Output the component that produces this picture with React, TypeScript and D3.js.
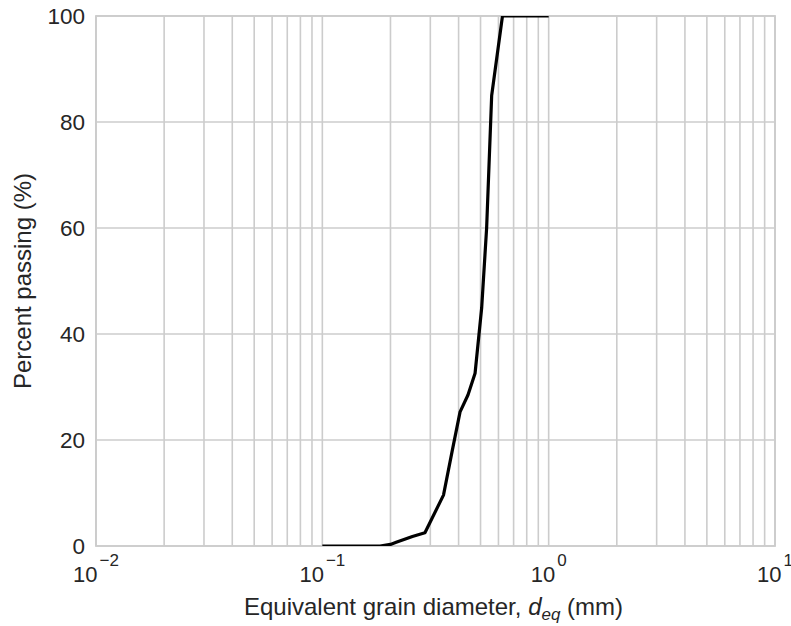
import React from "react";
import * as d3 from "d3";

const diameters = [0.1, 0.18, 0.2, 0.212, 0.25, 0.284, 0.343, 0.375, 0.406, 0.44, 0.473, 0.506, 0.532, 0.56, 0.625, 1.0];
const percentPassing = [0, 0, 0.3, 0.7, 1.8, 2.5, 9.6, 18, 25.3, 28.5, 32.6, 45, 60, 85, 100, 100];
const yTicks = [0, 20, 40, 60, 80, 100];
const xDecades = [-2, -1, 0, 1];

const W = 791, H = 626;
const L = 96, R = 775, T = 16, B = 546;
const FONT = "'Liberation Sans', Arial, sans-serif";
const TXT = "#262626";
const GRID = "#cccccc";

export default function App() {
  const x = d3.scaleLog().domain([0.01, 10]).range([L, R]);
  const y = d3.scaleLinear().domain([0, 100]).range([B, T]);
  const minor: number[] = [];
  for (const e of [-2, -1, 0]) {
    for (let k = 2; k <= 9; k++) minor.push(k * Math.pow(10, e));
  }
  const data = diameters.map((d, i) => [d, percentPassing[i]] as [number, number]);
  const line = d3.line<[number, number]>().x(d => x(d[0])).y(d => y(d[1]));
  return (
    <svg width={W} height={H} style={{ position: "absolute", left: 0, top: 0 }} fontFamily={FONT}>
      <rect x={0} y={0} width={W} height={H} fill="#fff" />
      <defs>
        <clipPath id="plotclip">
          <rect x={L} y={T} width={R - L} height={B - T} />
        </clipPath>
      </defs>
      {xDecades.map(e => (
        <line key={"xd" + e} x1={x(Math.pow(10, e))} x2={x(Math.pow(10, e))} y1={T} y2={B} stroke={GRID} strokeWidth={1.6} />
      ))}
      {minor.map((v, i) => (
        <line key={"xm" + i} x1={x(v)} x2={x(v)} y1={T} y2={B} stroke={GRID} strokeWidth={1.6} />
      ))}
      {yTicks.map(v => (
        <line key={"yg" + v} x1={L} x2={R} y1={y(v)} y2={y(v)} stroke={GRID} strokeWidth={1.6} />
      ))}
      <rect x={L} y={T} width={R - L} height={B - T} fill="none" stroke={GRID} strokeWidth={1.8} />
      <path d={line(data) || ""} fill="none" stroke="#000" strokeWidth={3.2} strokeLinejoin="round" clipPath="url(#plotclip)" />
      {yTicks.map(v => (
        <text key={"yt" + v} x={L - 11} y={y(v)} dy="0.36em" textAnchor="end" fontSize={22.5} fill={TXT}>{v}</text>
      ))}
      {xDecades.map(e => (
        <text key={"xt" + e} x={x(Math.pow(10, e))} y={582} textAnchor="middle" fontSize={22} fill={TXT}>
          10<tspan dx={2} dy={-16} fontSize={17}>{e < 0 ? "\u2212" + Math.abs(e) : String(e)}</tspan>
        </text>
      ))}
      <text x={(L + R) / 2 - 2} y={615} textAnchor="middle" fontSize={24} fill={TXT}>
        Equivalent grain diameter, <tspan fontStyle="italic">d</tspan><tspan fontStyle="italic" fontSize={17} dy={5}>eq</tspan><tspan dy={-5}> (mm)</tspan>
      </text>
      <text transform={`translate(31, ${(T + B) / 2}) rotate(-90)`} textAnchor="middle" fontSize={24} fill={TXT}>
        Percent passing (%)
      </text>
    </svg>
  );
}
